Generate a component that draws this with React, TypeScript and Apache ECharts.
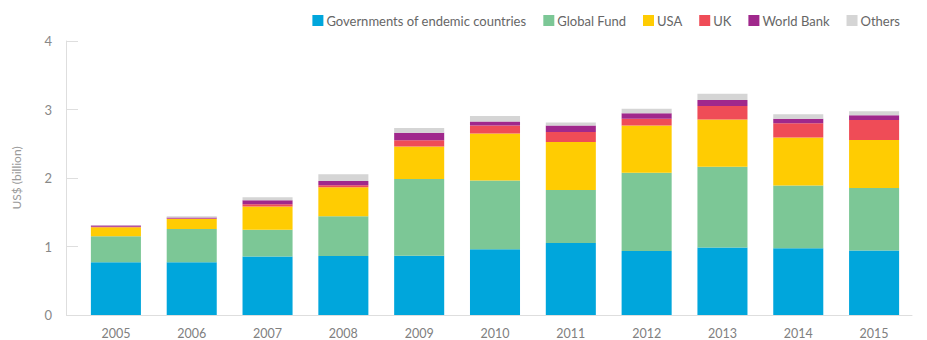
import React, { useEffect, useRef } from "react";
import * as echarts from "echarts";

const years = ["2005", "2006", "2007", "2008", "2009", "2010", "2011", "2012", "2013", "2014", "2015"];
const governments = [0.77, 0.77, 0.855, 0.86, 0.865, 0.96, 1.05, 0.935, 0.985, 0.975, 0.94];
const globalFund = [0.38, 0.485, 0.39, 0.58, 1.12, 1.005, 0.775, 1.14, 1.18, 0.915, 0.915];
const usa = [0.13, 0.145, 0.34, 0.425, 0.475, 0.685, 0.7, 0.69, 0.69, 0.7, 0.7];
const uk = [0.01, 0.01, 0.03, 0.03, 0.09, 0.115, 0.145, 0.1, 0.195, 0.21, 0.29];
const worldBank = [0.015, 0.015, 0.06, 0.06, 0.11, 0.06, 0.095, 0.08, 0.09, 0.065, 0.07];
const others = [0.005, 0.015, 0.045, 0.1, 0.07, 0.08, 0.045, 0.065, 0.09, 0.065, 0.06];

const seriesNames = ["Governments of endemic countries", "Global Fund", "USA", "UK", "World Bank", "Others"];
const seriesData = [governments, globalFund, usa, uk, worldBank, others];
const colors = ["#00A6DC", "#7CC796", "#FFCC02", "#EF4C57", "#A0288C", "#D5D5D5"];
const yTicks = [0, 1, 2, 3, 4];

export default function App() {
  const ref = useRef<HTMLDivElement>(null);
  useEffect(() => {
    document.body.style.margin = "0";
    if (!ref.current) return;
    const chart = echarts.init(ref.current, null, { renderer: "svg" });
    const font = "Lato, 'Noto Sans', sans-serif";
    chart.setOption({
      animation: false,
      textStyle: { fontFamily: font },
      color: colors,
      legend: {
        top: 9,
        right: 22,
        itemWidth: 11,
        itemHeight: 11,
        itemGap: 17,
        icon: "rect",
        textStyle: { color: "#666", fontSize: 13, fontFamily: font, padding: [0, 0, 0, -2] },
        data: seriesNames,
      },
      grid: { left: 78, right: 15, top: 41, bottom: 25 },
      xAxis: {
        type: "category",
        data: years,
        axisLine: { lineStyle: { color: "#dedede", width: 1 } },
        axisTick: { alignWithLabel: true, length: 4, lineStyle: { color: "#dedede" } },
        axisLabel: { color: "#808080", fontSize: 12.5, margin: 12, fontFamily: font },
      },
      yAxis: {
        type: "value",
        min: 0,
        max: 4,
        interval: 1,
        offset: 12,
        name: "US$ (billion)",
        nameLocation: "middle",
        nameRotate: 90,
        nameGap: 44,
        nameTextStyle: { color: "#999", fontSize: 12, fontFamily: font },
        axisLine: { show: true, lineStyle: { color: "#dedede", width: 1 } },
        axisTick: { show: true, inside: true, length: 12, lineStyle: { color: "#dedede" } },
        axisLabel: {
          color: "#888",
          fontSize: 13,
          margin: 14,
          fontFamily: font,
          formatter: (v: number) => (yTicks.includes(v) ? String(v) : ""),
        },
        splitLine: { show: false },
      },
      graphic: [
        {
          type: "line",
          shape: { x1: 66, y1: 315.5, x2: 78, y2: 315.5 },
          style: { stroke: "#dedede", lineWidth: 1 },
        },
      ],
      series: seriesNames.map((name, i) => ({
        name,
        type: "bar",
        stack: "total",
        barCategoryGap: "34%",
        data: seriesData[i],
        itemStyle: { color: colors[i] },
      })),
    });
    return () => chart.dispose();
  }, []);
  return <div ref={ref} style={{ width: 927, height: 340 }} />;
}
